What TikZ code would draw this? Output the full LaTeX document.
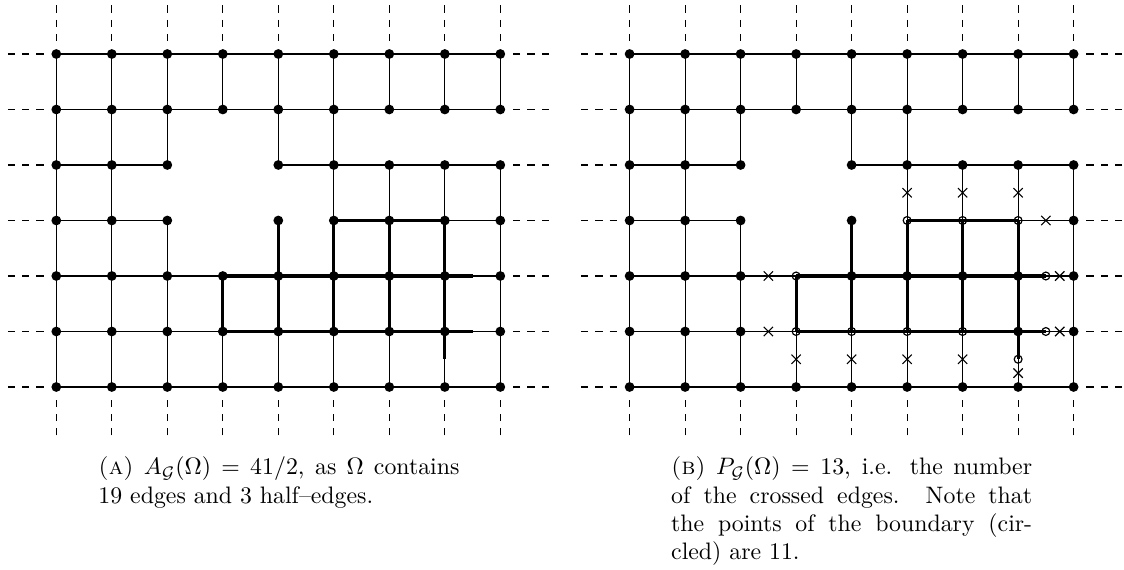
\documentclass[tikz,border=0pt]{standalone}
\usetikzlibrary{shapes.misc}
\begin{document}
\begin{tikzpicture}[x=0.42pt,y=-0.42pt,
  gedge/.style={line width=0.45pt},
  gthick/.style={line width=1.3pt},
  gdash/.style={line width=0.45pt,dash pattern=on 3pt off 3pt},
  gdot/.style={circle,fill=black,inner sep=0pt,minimum size=4.1pt},
  gcirc/.style={circle,draw=black,line width=0.5pt,inner sep=0pt,minimum size=3.3pt},
  gcross/.style={cross out,draw=black,line width=0.5pt,inner sep=0pt,minimum size=3.4pt},
  captext/.style={anchor=base west,inner sep=0pt,font=\normalsize}]
\useasboundingbox (0,0) rectangle (1124,570);

\foreach \P/\ox in {A/0,B/573.3}{
  % grid points
  \foreach \i in {0,...,8}{
    \foreach \j in {0,...,6}{
      \coordinate (\P-\i-\j) at ({56.3+\ox+55.5*\i},{54+55.5*\j});
    }
  }
  % half-edge end points
  \coordinate (\P-h4) at ({56.3+\ox+55.5*7.5},{54+55.5*4});
  \coordinate (\P-h5) at ({56.3+\ox+55.5*7.5},{54+55.5*5});
  \coordinate (\P-v7) at ({56.3+\ox+55.5*7},{54+55.5*5.5});
  % dashed continuations
  \foreach \j in {0,...,6}{
    \coordinate (\P-Lo-\j) at ({56.3+\ox-48.5},{54+55.5*\j});
    \coordinate (\P-Li-\j) at ({56.3+\ox-12.8},{54+55.5*\j});
    \coordinate (\P-Ro-\j) at ({56.3+\ox+444+48.5},{54+55.5*\j});
    \coordinate (\P-Ri-\j) at ({56.3+\ox+444+12.8},{54+55.5*\j});
    \draw[gdash] (\P-Lo-\j) -- (\P-Li-\j);
    \draw[gdash] (\P-Ro-\j) -- (\P-Ri-\j);
  }
  \foreach \i in {0,...,8}{
    \coordinate (\P-To-\i) at ({56.3+\ox+55.5*\i},{54-48.5});
    \coordinate (\P-Ti-\i) at ({56.3+\ox+55.5*\i},{54-12.8});
    \coordinate (\P-Bo-\i) at ({56.3+\ox+55.5*\i},{387+48.5});
    \coordinate (\P-Bi-\i) at ({56.3+\ox+55.5*\i},{387+12.8});
    \draw[gdash] (\P-To-\i) -- (\P-Ti-\i);
    \draw[gdash] (\P-Bo-\i) -- (\P-Bi-\i);
  }
  % horizontal thin edges
  \foreach \i/\j in {0/0,1/0,2/0,3/0,4/0,5/0,6/0,7/0,
                     0/1,1/1,2/1,3/1,4/1,5/1,6/1,7/1,
                     0/2,1/2,4/2,5/2,6/2,7/2,
                     0/3,1/3,7/3,
                     0/4,1/4,2/4,
                     0/5,1/5,2/5,
                     0/6,1/6,2/6,3/6,4/6,5/6,6/6,7/6}{
    \pgfmathtruncatemacro\k{\i+1}
    \draw[gedge] (\P-\i-\j) -- (\P-\k-\j);
  }
  % vertical thin edges
  \foreach \i/\j in {0/0,1/0,2/0,3/0,4/0,5/0,6/0,7/0,8/0,
                     0/1,1/1,2/1,4/1,5/1,
                     0/2,1/2,5/2,6/2,7/2,8/2,
                     0/3,1/3,2/3,8/3,
                     0/4,1/4,2/4,8/4,
                     0/5,1/5,2/5,3/5,4/5,5/5,6/5,8/5}{
    \pgfmathtruncatemacro\k{\j+1}
    \draw[gedge] (\P-\i-\j) -- (\P-\i-\k);
  }
  % thick edges of Omega
  \foreach \i/\j in {5/3,6/3,3/4,4/4,5/4,6/4,3/5,4/5,5/5,6/5}{
    \pgfmathtruncatemacro\k{\i+1}
    \draw[gthick] (\P-\i-\j) -- (\P-\k-\j);
  }
  \foreach \i/\j in {4/3,5/3,6/3,7/3,3/4,4/4,5/4,6/4,7/4}{
    \pgfmathtruncatemacro\k{\j+1}
    \draw[gthick] (\P-\i-\j) -- (\P-\i-\k);
  }
  % half edges
  \draw[gthick] (\P-7-4) -- (\P-h4);
  \draw[gedge]  (\P-h4) -- (\P-8-4);
  \draw[gthick] (\P-7-5) -- (\P-h5);
  \draw[gedge]  (\P-h5) -- (\P-8-5);
  \draw[gthick] (\P-7-5) -- (\P-v7);
  \draw[gedge]  (\P-v7) -- (\P-7-6);
}

% dots of panel A
\foreach \j/\cols in {0/{0,1,2,3,4,5,6,7,8},1/{0,1,2,3,4,5,6,7,8},
                      2/{0,1,2,4,5,6,7,8},3/{0,1,2,4,5,6,7,8},
                      4/{0,1,2,3,4,5,6,7,8},5/{0,1,2,3,4,5,6,7,8},
                      6/{0,1,2,3,4,5,6,7,8}}{
  \foreach \i in \cols{
    \node[gdot] (A-d-\i-\j) at (A-\i-\j) {};
  }
}
% dots of panel B
\foreach \j/\cols in {0/{0,1,2,3,4,5,6,7,8},1/{0,1,2,3,4,5,6,7,8},
                      2/{0,1,2,4,5,6,7,8},3/{0,1,2,4,8},
                      4/{0,1,2,4,5,6,7,8},5/{0,1,2,7,8},
                      6/{0,1,2,3,4,5,6,7,8}}{
  \foreach \i in \cols{
    \node[gdot] (B-d-\i-\j) at (B-\i-\j) {};
  }
}
% circled boundary points of panel B
\foreach \i/\j in {3/4,3/5,4/5,5/5,6/5,5/3,6/3,7/3}{
  \node[gcirc] (B-c-\i-\j) at (B-\i-\j) {};
}
\node[gcirc] (B-c-h4) at (B-h4) {};
\node[gcirc] (B-c-h5) at (B-h5) {};
\node[gcirc] (B-c-v7) at (B-v7) {};
% crossed edges of panel B
\foreach \n/\x/\y in {1/2.5/4,2/2.5/5,3/3/5.5,4/4/5.5,5/5/5.5,6/6/5.5,7/7/5.75,
                      8/7.5/3,9/7.75/4,10/7.75/5,11/5/2.5,12/6/2.5,13/7/2.5}{
  \node[gcross] (B-x-\n) at ({56.3+573.3+55.5*\x},{54+55.5*\y}) {};
}

% captions
\node[captext] (capA1) at (98,475) {\makebox[151.6pt][s]{\textsc{(a)} $A_{\mathcal{G}}(\Omega)=41/2$, as $\Omega$ contains}};
\node[captext] (capA2) at (98,503.3) {19 edges and 3 half--edges.};
\node[captext] (capB1) at (670.7,475) {\makebox[151.6pt][s]{\textsc{(b)} $P_{\mathcal{G}}(\Omega)=13$, i.e. the number}};
\node[captext] (capB2) at (670.7,503.3) {\makebox[151.6pt][s]{of the crossed edges. Note that}};
\node[captext] (capB3) at (670.7,531.6) {\makebox[151.6pt][s]{the points of the boundary (cir-}};
\node[captext] (capB4) at (670.7,559.6) {cled) are 11.};
\end{tikzpicture}
\end{document}
